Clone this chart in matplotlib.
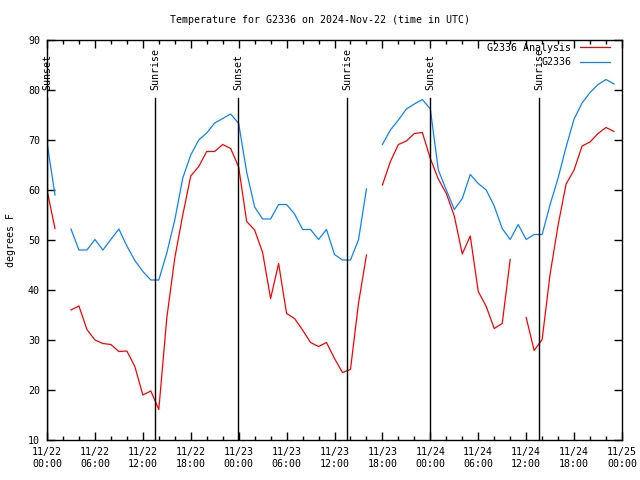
import numpy as np
import pandas as pd
import matplotlib
matplotlib.use("Agg")
import matplotlib.pyplot as plt
import matplotlib.dates as mdates

plt.rcParams['font.family'] = ['DejaVu Sans Mono']
plt.rcParams['font.size'] = 7.2

nan = np.nan

# hourly values starting 2024-11-22 00:00 UTC
times = pd.date_range("2024-11-22 00:00", periods=72, freq="h")

analysis = [60, 52.3, nan, 36, 36.8, 32.1, 30, 29.3, 29.1, 27.7, 27.8, 24.7,
            19, 19.8, 16.1, 34.4, 46.4, 55, 62.8, 64.7, 67.7, 67.7, 69.1, 68.3,
            64.6, 53.7, 52, 47.5, 38.3, 45.3, 35.3, 34.3, 32, 29.5, 28.7, 29.5,
            26.3, 23.5, 24.1, 37.3, 47, nan, 61, 65.7, 69.1, 69.8, 71.3, 71.5,
            66.3, 62.2, 59.3, 54.8, 47.2, 50.8, 39.7, 36.7, 32.3, 33.3, 46.1, nan,
            34.5, 27.9, 30.1, 43.2, 53, 61.2, 64, 68.8, 69.6, 71.3, 72.5, 71.7]

observed = [69.5, 59, nan, 52.2, 48, 48, 50.1, 48, 50.1, 52.2, 48.8, 45.9,
            43.7, 42, 42, 47.4, 54, 62.4, 67, 70, 71.4, 73.4, 74.3, 75.2,
            73.3, 63.6, 56.6, 54.2, 54.2, 57.1, 57.1, 55.2, 52.1, 52.1, 50.1, 52.1,
            47.1, 46, 46, 50, 60.2, nan, 69.1, 72, 74, 76.2, 77.2, 78.1,
            76.2, 64, 60, 56.1, 58.3, 63.1, 61.3, 60, 56.8, 52.3, 50.1, 53.1,
            50.1, 51.1, 51.1, 57.1, 62.4, 68.6, 74.2, 77.4, 79.5, 81.1, 82.1, 81.2]

event_times = pd.to_datetime(["2024-11-22 00:00", "2024-11-22 13:31",
                              "2024-11-22 23:55", "2024-11-23 13:33",
                              "2024-11-23 23:57", "2024-11-24 13:36"])
event_names = ["Sunset", "Sunrise", "Sunset", "Sunrise", "Sunset", "Sunrise"]

fig = plt.figure(figsize=(6.4, 4.8), dpi=100)
ax = fig.add_axes([47/640, 40/480, 575/640, 400/480])

ax.plot(times, analysis, color="#ff0000", lw=0.9, label="G2336 Analysis")
ax.plot(times, observed, color="#0a84ff", lw=0.9, label="G2336")

for t, name in zip(event_times, event_names):
    ax.plot([t, t], [10, 78.4], color="black", lw=1.0)
    ax.text(t, 80, name, rotation=90, ha="center", va="bottom", clip_on=False)

ax.set_xlim(pd.Timestamp("2024-11-22 00:00"), pd.Timestamp("2024-11-25 00:00"))
ax.set_ylim(10, 90)
ax.set_yticks(np.arange(10, 91, 10))
ax.xaxis.set_major_locator(mdates.HourLocator(byhour=[0, 6, 12, 18]))
ax.xaxis.set_minor_locator(mdates.HourLocator(byhour=range(0, 24, 2)))
ax.xaxis.set_major_formatter(mdates.DateFormatter("%m/%d\n%H:%M"))
ax.tick_params(which="major", direction="in", length=6, width=1,
               top=True, right=True, pad=5)
ax.tick_params(which="minor", direction="in", length=3, width=1,
               top=True, right=True)
for s in ax.spines.values():
    s.set_linewidth(1)

ax.set_ylabel("degrees F", labelpad=9)
fig.text(0.5, 1 - 20/480, "Temperature for G2336 on 2024-Nov-22 (time in UTC)",
         ha="center", va="center")

ax.legend(loc="upper right", bbox_to_anchor=(1 - 8/575, 1 + 1/400),
          frameon=False, markerfirst=False, borderaxespad=0,
          handlelength=3.0, labelspacing=0.45, handletextpad=0.9)

fig.savefig("out.png", dpi=100)
